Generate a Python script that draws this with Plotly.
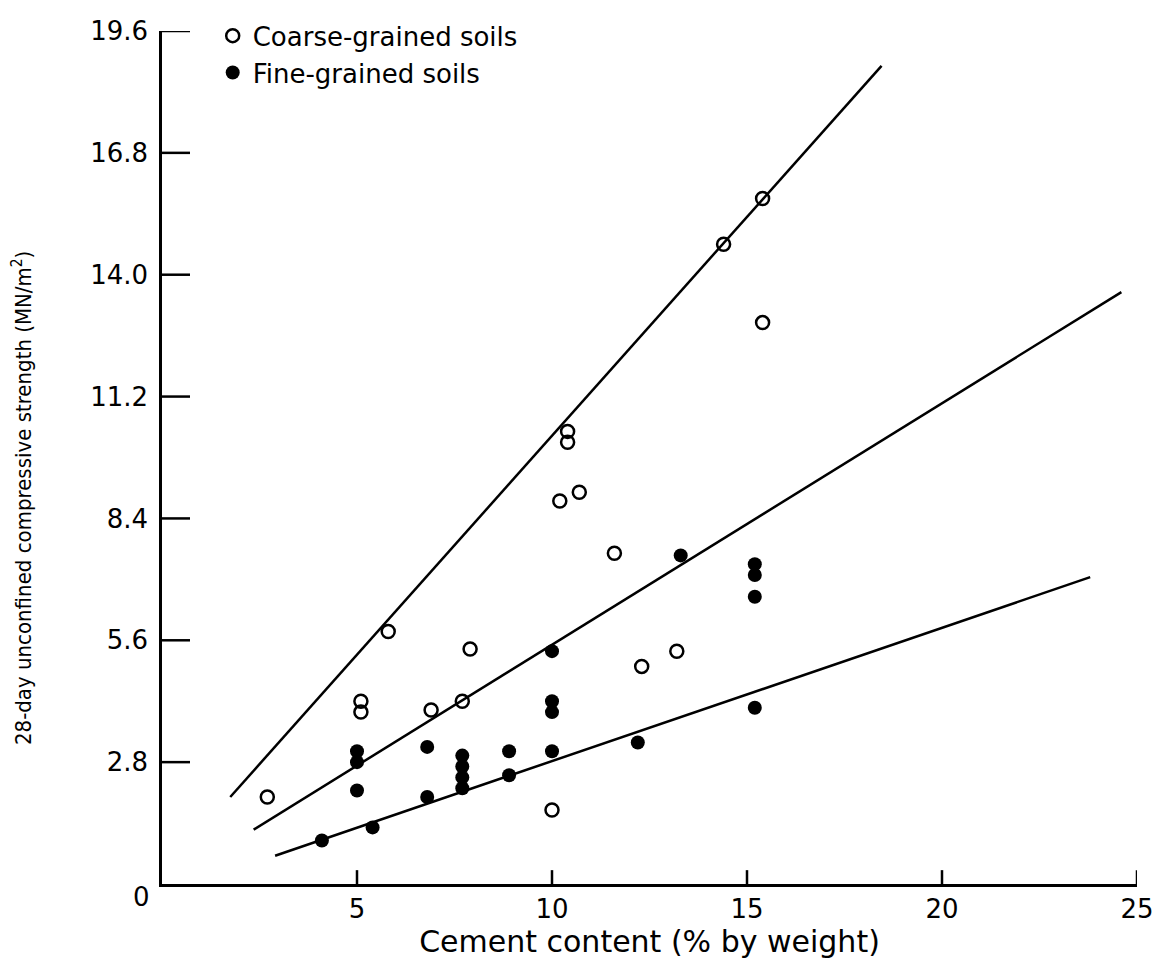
import plotly.graph_objects as go

# Coarse-grained soils (open circles)
coarse_x = [2.7, 5.1, 5.1, 5.8, 6.9, 7.7, 7.9, 10.0, 10.4, 10.4, 10.2, 10.7, 11.6, 12.3, 13.2, 14.4, 15.4, 15.4]
coarse_y = [2.0, 4.2, 3.95, 5.8, 4.0, 4.2, 5.4, 1.7, 10.4, 10.15, 8.8, 9.0, 7.6, 5.0, 5.35, 14.7, 15.75, 12.9]

# Fine-grained soils (filled circles)
fine_x = [4.1, 5.4, 5.0, 5.0, 5.0, 6.8, 6.8, 7.7, 7.7, 7.7, 7.7, 8.9, 8.9,
          10.0, 10.0, 10.0, 10.0, 12.2, 13.3, 15.2, 15.2, 15.2, 15.2]
fine_y = [1.0, 1.3, 3.05, 2.8, 2.15, 3.15, 2.0, 2.95, 2.7, 2.45, 2.2, 3.05, 2.5,
          5.35, 4.2, 3.95, 3.05, 3.25, 7.55, 7.35, 7.1, 6.6, 4.05]

# Fitted lines (start / end points)
line1_x = [1.75, 18.45]
line1_y = [2.0, 18.8]
line2_x = [2.35, 24.6]
line2_y = [1.25, 13.6]
line3_x = [2.9, 23.8]
line3_y = [0.65, 7.05]

y_ticks = [2.8, 5.6, 8.4, 11.2, 14.0, 16.8, 19.6]
y_ticktext = ["2.8", "5.6", "8.4", "11.2", "14.0", "16.8", "19.6"]
x_ticks = [5, 10, 15, 20, 25]
x_ticktext = ["5", "10", "15", "20", "25"]

FONT = "DejaVu Sans, Liberation Sans, Arial, sans-serif"

W, H = 1168, 968
ML, MR, MT, MB = 162, 31, 22, 84
PW, PH = W - ML - MR, H - MT - MB
Y_TICKLEN, X_TICKLEN = 28, 14

fig = go.Figure()

for lx, ly in [(line1_x, line1_y), (line2_x, line2_y), (line3_x, line3_y)]:
    fig.add_trace(go.Scatter(x=lx, y=ly, mode="lines", showlegend=False,
                             line=dict(color="black", width=2.5), hoverinfo="skip"))

fig.add_trace(go.Scatter(
    x=coarse_x, y=coarse_y, mode="markers", name="Coarse-grained soils",
    marker=dict(symbol="circle-open", size=13, color="black", line=dict(width=2.5))))
fig.add_trace(go.Scatter(
    x=fine_x, y=fine_y, mode="markers", name="Fine-grained soils",
    marker=dict(symbol="circle", size=14, color="black")))

fig.update_layout(
    width=W, height=H,
    margin=dict(l=ML, r=MR, t=MT, b=MB),
    paper_bgcolor="white", plot_bgcolor="white",
    font=dict(family=FONT, color="black"),
    legend=dict(x=0.052, y=1.022, xanchor="left", yanchor="top",
                bgcolor="rgba(0,0,0,0)", font=dict(size=26, family=FONT),
                tracegroupgap=0, itemwidth=30),
    xaxis=dict(range=[0, 25], tickvals=x_ticks, ticktext=x_ticktext,
               showline=True, linecolor="black", linewidth=2.5,
               ticks="", showgrid=False, zeroline=False,
               tickfont=dict(size=26, family=FONT),
               title=dict(text="Cement content (% by weight)",
                          font=dict(size=30, family=FONT), standoff=8)),
    yaxis=dict(range=[0, 19.6], tickvals=y_ticks, ticktext=y_ticktext,
               showline=True, linecolor="black", linewidth=2.5,
               ticks="", showgrid=False, zeroline=False,
               tickfont=dict(size=26, family=FONT), ticklabelstandoff=6),
)

# inward-pointing tick marks, placed at the axis tick values
for v in y_ticks:
    fig.add_shape(type="line", xref="paper", yref="y", x0=0, x1=Y_TICKLEN / PW,
                  y0=v, y1=v, line=dict(color="black", width=2.5))
for v in x_ticks:
    fig.add_shape(type="line", xref="x", yref="paper", x0=v, x1=v,
                  y0=0, y1=X_TICKLEN / PH, line=dict(color="black", width=2.5))

fig.add_annotation(text="28-day unconfined compressive strength (MN/m<sup>2</sup>)",
                   xref="paper", yref="paper", x=-0.143, y=0.452,
                   xanchor="center", yanchor="middle", textangle=-90,
                   showarrow=False,
                   font=dict(size=22, family="Liberation Sans Narrow, DejaVu Sans Condensed, Liberation Sans, Arial, sans-serif"))
fig.add_annotation(text="0", xref="paper", yref="paper", x=-0.021, y=-0.015,
                   xanchor="center", yanchor="middle", showarrow=False,
                   font=dict(size=26, family=FONT))

fig.write_html("out.html")
